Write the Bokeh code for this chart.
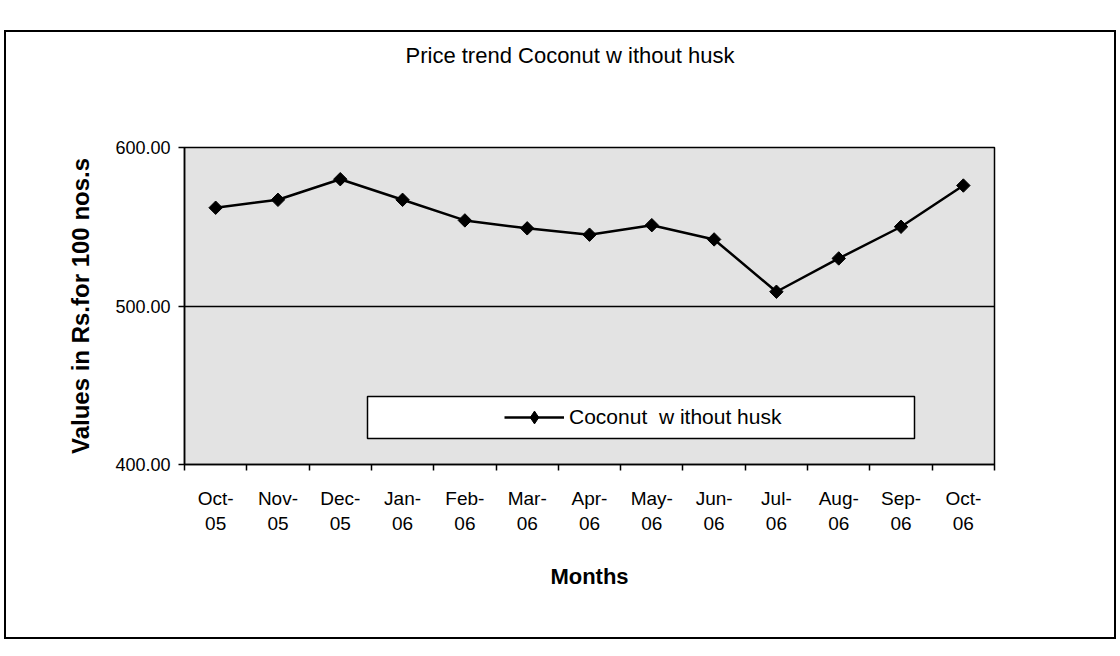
from bokeh.plotting import figure
from bokeh.models import (Range1d, FixedTicker, PrintfTickFormatter, Legend,
                          LegendItem, BoxAnnotation, Div)
from bokeh.layouts import column
from bokeh.embed import file_html
from bokeh.resources import INLINE

# ---- data ----
months = ["Oct-\n05", "Nov-\n05", "Dec-\n05", "Jan-\n06", "Feb-\n06", "Mar-\n06",
          "Apr-\n06", "May-\n06", "Jun-\n06", "Jul-\n06", "Aug-\n06", "Sep-\n06",
          "Oct-\n06"]
prices = [562, 567, 580, 567, 554, 549, 545, 551, 542, 509, 530, 550, 576]
y_ticks = [400, 500, 600]
series_name = "Coconut  w ithout husk"
title_text = "Price trend Coconut  w ithout husk"

FONT = "Liberation Sans"
n = len(months)
xs = list(range(n))

# chart title sits in its own block above the plot
title = Div(text=title_text, width=1108, height=100, margin=(0, 0, 0, 0),
            styles={"font-family": FONT, "font-size": "22px", "color": "black",
                    "text-align": "center", "line-height": "48px",
                    "text-indent": "20px", "background-color": "white"})

p = figure(width=1108, height=505,
           x_range=Range1d(-0.5, n - 0.5), y_range=Range1d(400, 600),
           output_backend="svg", toolbar_location=None,
           min_border_left=178, min_border_right=120,
           min_border_top=15, min_border_bottom=173,
           background_fill_color="#e3e3e3", border_fill_color="white")

# frame
p.outline_line_color = "black"
p.outline_line_width = 1.5

# grids
p.xgrid.visible = False
p.ygrid.ticker = FixedTicker(ticks=y_ticks)
p.ygrid.grid_line_color = "black"
p.ygrid.grid_line_width = 1.5

# y axis
ya = p.yaxis[0]
ya.ticker = FixedTicker(ticks=y_ticks)
ya.formatter = PrintfTickFormatter(format="%.2f")
ya.axis_label = "Values in Rs.for 100 nos.s"
ya.axis_label_text_font = FONT
ya.axis_label_text_font_style = "bold"
ya.axis_label_text_font_size = "24px"
ya.axis_label_text_color = "black"
ya.axis_label_standoff = 18
ya.major_label_text_font = FONT
ya.major_label_text_font_size = "18px"
ya.major_label_text_color = "black"
ya.major_label_standoff = 8
ya.major_tick_out = 6
ya.major_tick_in = 0
ya.minor_tick_out = 0
ya.minor_tick_in = 0
ya.axis_line_color = "black"
ya.axis_line_width = 1.5
ya.major_tick_line_color = "black"
ya.major_tick_line_width = 1.5

# x axis: labels at category centres, ticks at category boundaries
xa = p.xaxis[0]
xa.ticker = FixedTicker(ticks=xs, minor_ticks=[i - 0.5 for i in range(n + 1)])
xa.major_label_overrides = {i: m for i, m in enumerate(months)}
xa.major_label_text_font = FONT
xa.major_label_text_font_size = "19px"
xa.major_label_text_color = "black"
xa.major_label_standoff = 17
xa.major_tick_out = 0
xa.major_tick_in = 0
xa.minor_tick_out = 6
xa.minor_tick_in = 0
xa.minor_tick_line_color = "black"
xa.minor_tick_line_width = 1.5
xa.axis_line_color = "black"
xa.axis_line_width = 1.5
xa.axis_label = "Months"
xa.axis_label_text_font = FONT
xa.axis_label_text_font_style = "bold"
xa.axis_label_text_font_size = "22px"
xa.axis_label_text_color = "black"
xa.axis_label_standoff = 27

# legend frame
box = BoxAnnotation(left=183, right=730, bottom=26, top=68,
                    left_units="screen", right_units="screen",
                    bottom_units="screen", top_units="screen",
                    fill_color="white", fill_alpha=1.0,
                    line_color="black", line_alpha=1.0, line_width=1.5,
                    level="overlay")
p.add_layout(box)

# series
r_line = p.line(xs, prices, line_color="black", line_width=2.5)
r_mark = p.scatter(xs, prices, marker="square", angle=0.785398, size=9.5,
                   fill_color="black", line_color="black")
# same series drawn as diamonds, hidden in the plot, used only for the key
r_key = p.scatter(xs, prices, marker="diamond", size=14,
                  fill_color="black", line_color="black", visible=False)

legend = Legend(items=[LegendItem(label=series_name, renderers=[r_line, r_key])],
                location=(320, 31), orientation="horizontal",
                glyph_width=60, glyph_height=32, label_standoff=5,
                padding=0, margin=0, border_line_color=None,
                background_fill_alpha=0, click_policy="none",
                label_text_font=FONT, label_text_font_size="21px",
                label_text_color="black")
p.add_layout(legend, "center")

page = column(title, p, spacing=0,
              styles={"border": "2px solid black", "margin-top": "30px",
                      "margin-left": "4px", "background-color": "white"})

open("out.html", "w").write(file_html(page, INLINE))
